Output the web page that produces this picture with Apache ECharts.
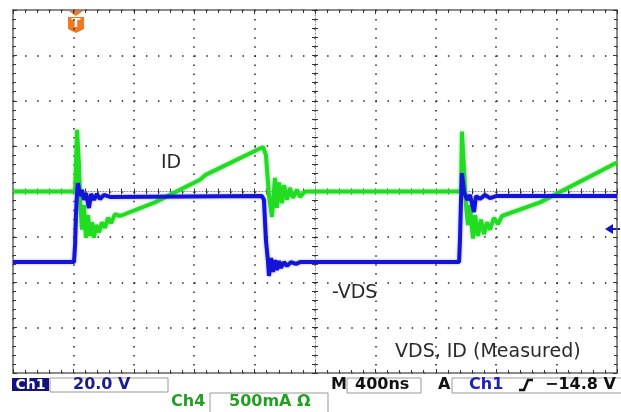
<!DOCTYPE html>
<html>
<head>
<meta charset="utf-8">
<script src="https://cdn.jsdelivr.net/npm/echarts@6/dist/echarts.min.js"></script>
<style>
  html, body { margin: 0; padding: 0; background: #fff; }
  #chart { width: 621px; height: 412px; }
</style>
</head>
<body>
<div id="chart"></div>
<script>
// time in ns (400 ns/div, trigger origin at screen centre)
const blueTime = [-2000, -1596, -1589, -1583, -1576, -1570, -1556, -1543, -1530, -1517, -1497, -1483, -1464, -1444, -1424, -1397, -1358,
  -351, -338, -325, -311, -305, -291, -278, -265, -252, -238, -225, -205, -185, -159, -126, -99,
  954, 960, 967, 973, 987, 1007, 1026, 1053, 1066, 1093, 1126, 1159, 1199, 2000];
// -VDS, volts (Ch1, 20 V/div)
const vdsNeg = [-31.1, -31.1, -23.6, -10.4, -0.2, 3.7, -2.0, 0.7, -3.7, -0.7, -7.3, -1.1, -3.7, -1.1, -3.3, -1.5, -2.4,
  -2.0, -3.7, -21.4, -31.1, -37.2, -29.3, -35.5, -30.2, -34.6, -30.6, -33.7, -31.1, -32.8, -31.1, -31.9, -31.1,
  -31.1, -21.4, -3.7, 8.1, -0.2, -3.7, -1.5, -9.0, -2.0, -3.3, -1.5, -2.9, -2.0, -2.0];

const greenTime = [-2000, -1589, -1576, -1563, -1556, -1543, -1530, -1517, -1503, -1490, -1477, -1464, -1450, -1430, -1411, -1391, -1371, -1351, -1325, -1291,
  -1060, -762, -728, -344, -325, -305, -285, -265, -252, -238, -219, -205, -185, -166, -146, -119, -99, -66,
  967, 973, 987, 1000, 1013, 1026, 1046, 1060, 1079, 1099, 1119, 1139, 1159, 1185, 1212, 1238, 1490, 2000];
// ID, amps (Ch4, 500 mA/div)
const idAmps = [0, 0, 0.68, 0.29, -0.09, -0.42, -0.15, -0.51, -0.26, -0.49, -0.34, -0.51, -0.37, -0.45, -0.34, -0.40, -0.29, -0.35, -0.25, -0.27,
  -0.12, 0.13, 0.18, 0.49, 0.40, -0.04, -0.28, 0.15, -0.18, 0.10, -0.13, 0.07, -0.09, 0.04, -0.07, 0.02, -0.06, 0,
  0, 0.66, 0.24, -0.15, -0.37, -0.15, -0.52, -0.26, -0.49, -0.31, -0.47, -0.34, -0.42, -0.29, -0.36, -0.27, -0.12, 0.32];

const chart = echarts.init(document.getElementById('chart'));

const tickCol = '#333';
const baseX = { type: 'value', min: -2000, max: 2000, interval: 400, position: 'bottom', axisLabel: { show: false }, splitLine: { show: false } };
const baseY = { type: 'value', min: -80, max: 80, interval: 20, position: 'left', axisLabel: { show: false }, splitLine: { show: false } };
const minor = { show: true, splitNumber: 5, length: 3, lineStyle: { color: tickCol, width: 1 } };
const frameLine = { onZero: false, lineStyle: { color: '#666', width: 1.5 } };

const option = {
  animation: false,
  grid: { left: 13, right: 4, top: 10, bottom: 39 },
  xAxis: [
    { ...baseX, axisLine: frameLine, axisTick: { inside: true, length: 4, lineStyle: { color: tickCol } }, minorTick: minor,
      splitLine: { show: true, lineStyle: { color: '#222', width: 1.5, type: [1.5, 7.58] } } },
    { ...baseX, position: 'top', axisLine: frameLine, axisTick: { inside: true, length: 4, lineStyle: { color: tickCol } }, minorTick: minor },
    // centre cross, ticks on both sides
    { ...baseX, axisLine: { onZero: true, onZeroAxisIndex: 0, lineStyle: { color: '#888', width: 1, type: [1, 2] } },
      axisTick: { inside: false, length: 3, lineStyle: { color: tickCol } }, minorTick: minor },
    { ...baseX, axisLine: { show: false, onZero: true, onZeroAxisIndex: 1 },
      axisTick: { inside: true, length: 3, lineStyle: { color: tickCol } }, minorTick: minor }
  ],
  yAxis: [
    { ...baseY, axisLine: frameLine, axisTick: { inside: true, length: 4, lineStyle: { color: tickCol } }, minorTick: minor,
      splitLine: { show: true, lineStyle: { color: '#222', width: 1.5, type: [1.5, 10.58] } } },
    { ...baseY, min: -2, max: 2, interval: 0.5, position: 'right', axisLine: frameLine,
      axisTick: { inside: true, length: 4, lineStyle: { color: tickCol } }, minorTick: minor },
    { ...baseY, axisLine: { onZero: true, onZeroAxisIndex: 0, lineStyle: { color: '#888', width: 1, type: [1, 2] } },
      axisTick: { inside: false, length: 3, lineStyle: { color: tickCol } }, minorTick: minor },
    { ...baseY, axisLine: { show: false, onZero: true, onZeroAxisIndex: 1 },
      axisTick: { inside: true, length: 3, lineStyle: { color: tickCol } }, minorTick: minor }
  ],
  series: [
    {
      name: 'ID', type: 'line', xAxisIndex: 0, yAxisIndex: 1, z: 3,
      data: greenTime.map((t, i) => [t, idAmps[i]]),
      symbol: 'none',
      lineStyle: { color: '#22dc22', width: 4, shadowColor: 'rgba(110,235,110,0.7)', shadowBlur: 3 }
    },
    {
      name: '-VDS', type: 'line', xAxisIndex: 0, yAxisIndex: 0, z: 4,
      data: blueTime.map((t, i) => [t, vdsNeg[i]]),
      symbol: 'none',
      lineStyle: { color: '#1414d8', width: 4, shadowColor: 'rgba(110,110,245,0.6)', shadowBlur: 3 }
    }
  ],
  graphic: [
    // trigger marker
    { type: 'polygon', shape: { points: [[69, 11], [83, 11], [76, 16]] }, style: { fill: '#f07820' } },
    { type: 'polygon', shape: { points: [[68, 17], [84, 17], [84, 29], [76, 33], [68, 29]] }, style: { fill: '#f07820' } },
    { type: 'text', style: { text: 'T', x: 76, y: 24, align: 'center', verticalAlign: 'middle', font: 'bold 13px "DejaVu Sans"', fill: '#fff' } },
    // ground level arrow, right edge
    { type: 'polygon', shape: { points: [[605, 229], [613, 224], [613, 234]] }, style: { fill: '#1414c8' } },
    { type: 'line', shape: { x1: 612, y1: 229, x2: 620, y2: 229 }, style: { stroke: '#1414c8', lineWidth: 2 } },
    // trace labels
    { type: 'text', style: { text: 'ID', x: 161, y: 163, verticalAlign: 'middle', font: '19px "DejaVu Sans"', fill: '#2a2a2a' } },
    { type: 'text', style: { text: '-VDS', x: 332, y: 293, verticalAlign: 'middle', font: '19px "DejaVu Sans"', fill: '#2a2a2a' } },
    { type: 'text', style: { text: 'VDS, ID (Measured)', x: 395, y: 352, verticalAlign: 'middle', font: '19px "DejaVu Sans"', fill: '#2a2a2a' } },
    // status bar
    { type: 'rect', shape: { x: 12, y: 378, width: 37, height: 13 }, style: { fill: '#12127a' } },
    { type: 'text', style: { text: 'Ch1', x: 30.5, y: 385, align: 'center', verticalAlign: 'middle', font: 'bold 14px "DejaVu Sans"', fill: '#fff' } },
    { type: 'rect', shape: { x: 50, y: 378, width: 118, height: 14 }, style: { fill: 'none', stroke: '#999', lineWidth: 1 } },
    { type: 'text', style: { text: '20.0 V', x: 73, y: 385, verticalAlign: 'middle', font: 'bold 16px "DejaVu Sans"', fill: '#1c1c8c' } },
    { type: 'text', style: { text: 'Ch4', x: 171, y: 402, verticalAlign: 'middle', font: 'bold 16px "DejaVu Sans"', fill: '#22a022' } },
    { type: 'rect', shape: { x: 210, y: 393, width: 118, height: 20 }, style: { fill: 'none', stroke: '#999', lineWidth: 1 } },
    { type: 'text', style: { text: '500mA Ω', x: 229, y: 402, verticalAlign: 'middle', font: 'bold 16px "DejaVu Sans"', fill: '#22a022' } },
    { type: 'text', style: { text: 'M', x: 331, y: 385, verticalAlign: 'middle', font: 'bold 16px "DejaVu Sans"', fill: '#111' } },
    { type: 'rect', shape: { x: 347, y: 378, width: 74, height: 15 }, style: { fill: 'none', stroke: '#999', lineWidth: 1 } },
    { type: 'text', style: { text: '400ns', x: 355, y: 385, verticalAlign: 'middle', font: 'bold 16px "DejaVu Sans"', fill: '#111' } },
    { type: 'text', style: { text: 'A', x: 438, y: 385, verticalAlign: 'middle', font: 'bold 16px "DejaVu Sans"', fill: '#111' } },
    { type: 'rect', shape: { x: 452, y: 378, width: 180, height: 15 }, style: { fill: 'none', stroke: '#999', lineWidth: 1 } },
    { type: 'text', style: { text: 'Ch1', x: 469, y: 385, verticalAlign: 'middle', font: 'bold 16px "DejaVu Sans"', fill: '#2020c0' } },
    { type: 'polyline', shape: { points: [[519, 390], [524, 390], [528, 380], [533, 380]] }, style: { stroke: '#111', lineWidth: 2.5, fill: null } },
    { type: 'text', style: { text: '−14.8 V', x: 545, y: 385, verticalAlign: 'middle', font: 'bold 16px "DejaVu Sans"', fill: '#111' } }
  ]
};

chart.setOption(option);
</script>
</body>
</html>
